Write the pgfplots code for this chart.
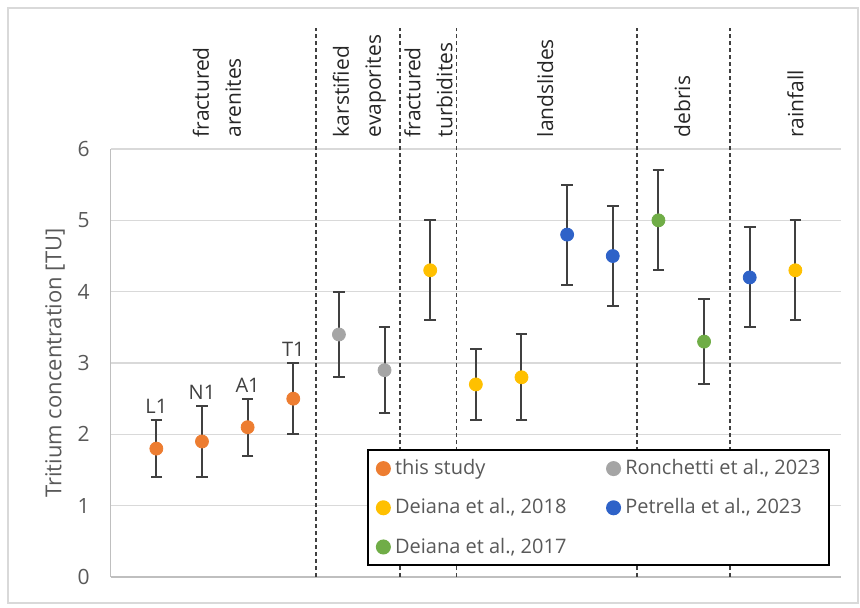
\documentclass[border=0pt]{standalone}
\usepackage{fontspec}
\setmainfont{Open Sans}
\usepackage{pgfplots}
\pgfplotsset{compat=1.18}
\definecolor{cOrange}{HTML}{ED7D31}
\definecolor{cGray}{HTML}{A5A5A5}
\definecolor{cYellow}{HTML}{FFC000}
\definecolor{cBlue}{HTML}{2E62C8}
\definecolor{cGreen}{HTML}{70AD47}
\definecolor{cErr}{HTML}{404040}
\definecolor{cGrid}{HTML}{D9D9D9}
\definecolor{cAxis}{HTML}{BFBFBF}
\definecolor{cTick}{HTML}{595959}
\definecolor{cLab}{HTML}{262626}
\definecolor{cBorder}{HTML}{D9D9D9}
\pgfplotsset{
  pt/.style={only marks, mark=*, mark size=3.25pt, color=#1,
    mark options={draw=none, fill=#1},
    error bars/y dir=both, error bars/y explicit,
    error bars/error bar style={line width=1pt, draw=cErr},
    error bars/error mark options={rotate=90, mark size=2.9pt, line width=1pt, draw=cErr}},
}
\begin{document}
\begin{tikzpicture}
\begin{axis}[
  scale only axis, width=365.15pt, height=214pt,
  xmin=0, xmax=16, ymin=0, ymax=6,
  clip=false,
  axis lines*=left,
  axis line style={draw=cAxis, line width=0.75pt},
  xtick=\empty,
  ytick={0,1,2,3,4,5,6},
  ymajorgrids, grid style={draw=cGrid, line width=0.75pt},
  major tick length=0pt,
  /pgf/number format/assume math mode=true,
  yticklabel style={font=\fontsize{10.5}{12}\selectfont, text=cTick, anchor=east, inner sep=0pt, xshift=-10.3pt},
  ylabel={Tritium concentration [TU]},
  every axis y label/.style={at={(rel axis cs:-0.0763,0.5)}, rotate=90, anchor=center, font=\fontsize{11}{13}\selectfont, text=cTick},
  legend columns=2,
  legend cell align=left,
  legend image code/.code={\draw[#1] plot coordinates {(0pt,0pt)};},
  legend style={at={(rel axis cs:0.3505,0.2984)}, anchor=north west, draw=black, line width=1pt, fill=white,
    inner sep=4.6pt, font=\fontsize{10}{12}\selectfont, text=cTick, row sep=10.5pt,
    nodes={inner sep=0pt},
    /tikz/every odd column/.append style={column sep=2.6pt},
    /tikz/every even column/.append style={column sep=20.3pt}},
]
% this study
\addplot[pt=cOrange] table[x=x, y=y, y error=e] {
x y e
1 1.8 0.4
2 1.9 0.5
3 2.1 0.4
4 2.5 0.5
};
\addlegendentry{this study}
% Ronchetti et al., 2023
\addplot[pt=cGray] table[x=x, y=y, y error=e] {
x y e
5 3.4 0.6
6 2.9 0.6
};
\addlegendentry{Ronchetti et al., 2023}
% Deiana et al., 2018
\addplot[pt=cYellow] table[x=x, y=y, y error=e] {
x y e
7 4.3 0.7
8 2.7 0.5
9 2.8 0.6
15 4.3 0.7
};
\addlegendentry{Deiana et al., 2018}
% Petrella et al., 2023
\addplot[pt=cBlue] table[x=x, y=y, y error=e] {
x y e
10 4.8 0.7
11 4.5 0.7
14 4.2 0.7
};
\addlegendentry{Petrella et al., 2023}
% Deiana et al., 2017
\addplot[pt=cGreen] table[x=x, y=y, y error=e] {
x y e
12 5.0 0.7
13 3.3 0.6
};
\addlegendentry{Deiana et al., 2017}
% sample labels
\addplot[forget plot, only marks, mark=none, nodes near coords, point meta=explicit symbolic,
  nodes near coords style={anchor=south, inner sep=3pt, font=\fontsize{10}{12}\selectfont, text=cErr}]
  table[x=x, y=y, meta=lab] {
x y lab
1 2.2 L1
2 2.4 N1
3 2.5 A1
4 3.0 T1
};
% group separators
\addplot[forget plot, cErr, line width=0.65pt, dash pattern=on 2pt off 1.5pt] coordinates {(4.50,0) (4.50,7.7)};
\addplot[forget plot, cErr, line width=0.65pt, dash pattern=on 2pt off 1.5pt] coordinates {(6.34,0) (6.34,7.7)};
\addplot[forget plot, cErr, line width=0.65pt, dash pattern=on 2pt off 1.5pt] coordinates {(7.58,0) (7.58,7.7)};
\addplot[forget plot, cErr, line width=0.65pt, dash pattern=on 2pt off 1.5pt] coordinates {(11.53,0) (11.53,7.7)};
\addplot[forget plot, cErr, line width=0.65pt, dash pattern=on 2pt off 1.5pt] coordinates {(13.57,0) (13.57,7.7)};
% group labels
\tikzset{grp/.style={rotate=90, anchor=west, inner sep=0pt, align=left, font=\fontsize{10.5}{16}\selectfont, text=cLab}}
\node[grp] at (axis cs:2.33,6.16) {fractured\\arenites};
\node[grp] at (axis cs:5.45,6.16) {karstified\\evaporites};
\node[grp] at (axis cs:6.96,6.16) {fractured\\turbidites};
\node[grp] at (axis cs:9.52,6.16) {landslides};
\node[grp] at (axis cs:12.52,6.16) {debris};
\node[grp] at (axis cs:15.0,6.16) {rainfall};
\end{axis}
\draw[cBorder, line width=1pt] (-51.35pt,-13pt) rectangle (373.65pt,284.5pt);
\pgfresetboundingbox
\path[use as bounding box] (-55.35pt,-15pt) rectangle (374.65pt,288.5pt);
\end{tikzpicture}
\end{document}
